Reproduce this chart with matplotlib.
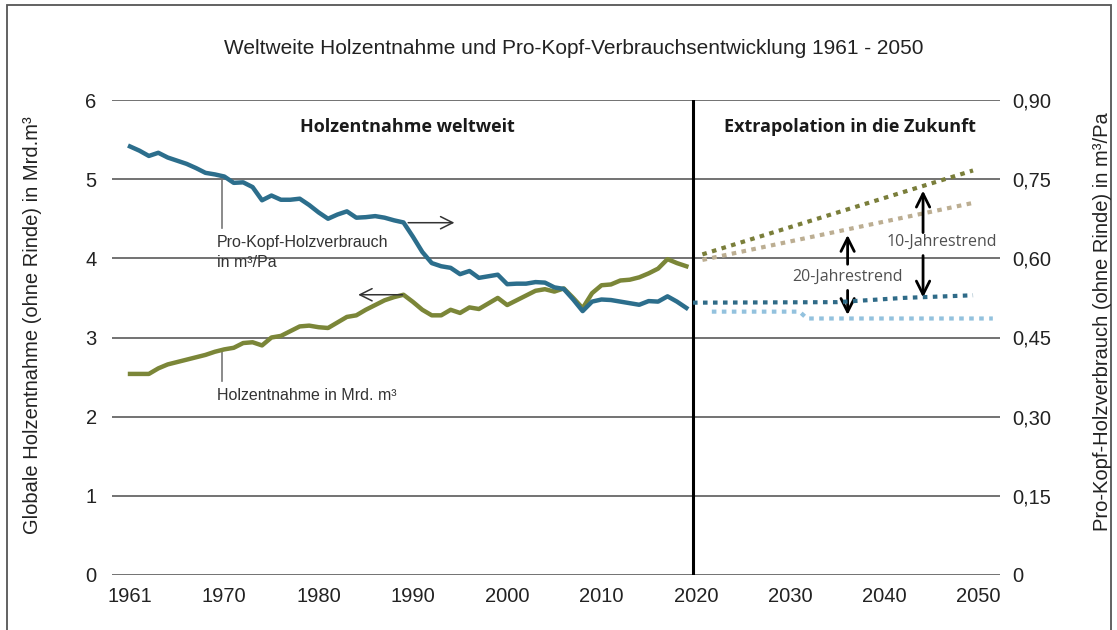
import matplotlib
matplotlib.use("Agg")
import matplotlib.pyplot as plt
from matplotlib.patches import Rectangle

# Holzentnahme weltweit (Mrd. m3) und Pro-Kopf-Verbrauch (m3/Pa), 1961-2020
years = list(range(1961, 2021))
removal = [2.54, 2.54, 2.54, 2.61, 2.66, 2.69, 2.72, 2.75, 2.78, 2.82,
           2.85, 2.87, 2.93, 2.94, 2.90, 3.00, 3.02, 3.08, 3.14, 3.15,
           3.13, 3.12, 3.19, 3.26, 3.28, 3.35, 3.41, 3.47, 3.51, 3.54,
           3.45, 3.35, 3.28, 3.28, 3.35, 3.31, 3.38, 3.36, 3.43, 3.50,
           3.41, 3.47, 3.53, 3.59, 3.61, 3.58, 3.62, 3.50, 3.37, 3.56,
           3.66, 3.67, 3.72, 3.73, 3.76, 3.81, 3.87, 3.99, 3.94, 3.90]
per_capita = [0.812, 0.804, 0.794, 0.800, 0.791, 0.785, 0.779, 0.771, 0.762, 0.759,
              0.755, 0.743, 0.744, 0.735, 0.710, 0.719, 0.711, 0.711, 0.713, 0.701,
              0.687, 0.675, 0.683, 0.689, 0.677, 0.678, 0.680, 0.677, 0.672, 0.668,
              0.641, 0.612, 0.591, 0.585, 0.582, 0.570, 0.576, 0.563, 0.566, 0.569,
              0.551, 0.552, 0.552, 0.555, 0.554, 0.545, 0.542, 0.522, 0.500, 0.518,
              0.522, 0.521, 0.518, 0.515, 0.512, 0.519, 0.518, 0.528, 0.518, 0.506]

# Extrapolation
trend_years = [2021.7, 2050.4]
removal_trend10 = [4.05, 5.11]
removal_trend20 = [3.98, 4.70]
capita10_years = [2020.7, 2036.0, 2043.0, 2050.4]
capita_trend10 = [0.516, 0.517, 0.525, 0.530]
capita20_years = [2022.7, 2032.0, 2032.8, 2052.5]
capita_trend20 = [0.499, 0.499, 0.486, 0.486]

tick_years = [1961 + 10 * k for k in range(10)]
tick_labels = ["1961", "1970", "1980", "1990", "2000", "2010",
               "2020", "2030", "2040", "2050"]
left_ticks = [0, 1, 2, 3, 4, 5, 6]
right_ticks = [0, 0.15, 0.30, 0.45, 0.60, 0.75, 0.90]
right_labels = ["0", "0,15", "0,30", "0,45", "0,60", "0,75", "0,90"]

BLUE = "#2c6e8c"
GREEN = "#7b8638"
plt.rcParams["font.family"] = ["Liberation Sans", "DejaVu Sans"]

fig = plt.figure(figsize=(11.17, 6.30), dpi=100)
ax = fig.add_axes([112 / 1117, 1 - 575 / 630, 888 / 1117, 475 / 630])
ax2 = ax.twinx()

ax.set_xlim(1959.09, 2053.26)
ax.set_ylim(0, 6)
ax2.set_ylim(0, 0.9)
for a in (ax, ax2):
    for s in a.spines.values():
        s.set_visible(False)

ax.set_yticks(left_ticks)
ax.set_yticklabels([str(t) for t in left_ticks])
ax2.set_yticks(right_ticks)
ax2.set_yticklabels(right_labels)
ax.set_xticks(tick_years)
ax.set_xticklabels(tick_labels)
ax.tick_params(axis="y", length=0, pad=11, labelsize=14.5, colors="#222")
ax.tick_params(axis="x", length=0, pad=9, labelsize=14.5, colors="#222")
ax2.tick_params(axis="y", length=0, pad=9, labelsize=14.5, colors="#222")
ax.yaxis.grid(True, color="#5a5a5a", lw=1.2)
ax.set_axisbelow(True)

# Verlauf
ax.plot(years, removal, color=GREEN, lw=3.2, solid_joinstyle="round", zorder=3)
ax2.plot(years, per_capita, color=BLUE, lw=3.2, solid_joinstyle="round", zorder=3)

dots = (0, (1.1, 1.3))
ax.plot(trend_years, removal_trend10, color="#7a7e3a", lw=3.0, ls=dots)
ax.plot(trend_years, removal_trend20, color="#bcae92", lw=3.0, ls=dots)
ax2.plot(capita10_years, capita_trend10, color="#2f6b88", lw=3.0, ls=dots)
ax2.plot(capita20_years, capita_trend20, color="#93c2de", lw=3.0, ls=dots)

ax.axvline(2020.7, color="black", lw=2.2, zorder=4)

bold = dict(family="Open Sans", weight="bold", fontsize=13, color="#1a1a1a",
            ha="center", va="center")
ax.text(1990.4, 5.66, "Holzentnahme weltweit", **bold)
ax.text(2037.35, 5.66, "Extrapolation in die Zukunft", **bold)

# Beschriftungen der Kurven
ax.plot([1970.76, 1970.76], [5.01, 4.38], color="#777", lw=1.2)
ax.text(1970.2, 4.07, "Pro-Kopf-Holzverbrauch\nin m³/Pa", fontsize=11.5,
        color="#333", ha="left", va="center", linespacing=1.4)
ax.plot([1970.76, 1970.76], [2.85, 2.45], color="#777", lw=1.2)
ax.text(1970.2, 2.27, "Holzentnahme in Mrd. m³", fontsize=11.5,
        color="#333", ha="left", va="center")

thin = dict(arrowstyle="->", color="#333", lw=1.1, mutation_scale=22)
ax.annotate("", xy=(1995.7, 4.45), xytext=(1990.2, 4.45), arrowprops=thin)
ax.annotate("", xy=(1984.9, 3.54), xytext=(1990.2, 3.54), arrowprops=thin)

# Trendpfeile
thick = dict(arrowstyle="->", color="black", lw=2.0, mutation_scale=24)
ax.annotate("", xy=(2037.1, 4.33), xytext=(2037.1, 3.89), arrowprops=thick)
ax.annotate("", xy=(2037.1, 3.25), xytext=(2037.1, 3.63), arrowprops=thick)
ax.annotate("", xy=(2045.1, 4.89), xytext=(2045.1, 4.29), arrowprops=thick)
ax.annotate("", xy=(2045.1, 3.47), xytext=(2045.1, 4.07), arrowprops=thick)
trend_font = dict(family="Open Sans", fontsize=11.5, color="#505050",
                  ha="center", va="center")
ax.text(2037.1, 3.76, "20-Jahrestrend", **trend_font)
ax.text(2047.1, 4.21, "10-Jahrestrend", **trend_font, zorder=5)

fig.text(574 / 1117, 1 - 48 / 630,
         "Weltweite Holzentnahme und Pro-Kopf-Verbrauchsentwicklung 1961 - 2050",
         fontsize=15, color="#222", ha="center", va="center")
fig.text(33 / 1117, 1 - 325 / 630,
         "Globale Holzentnahme (ohne Rinde) in Mrd.m³", rotation=90,
         fontsize=14.5, color="#222", ha="center", va="center")
fig.text(1103 / 1117, 1 - 322 / 630,
         "Pro-Kopf-Holzverbrauch (ohne Rinde) in m³/Pa", rotation=90,
         fontsize=14.5, color="#222", ha="center", va="center")

fig.patches.append(Rectangle((7 / 1117, -0.05), 1104 / 1117, 1.05 - 5 / 630,
                             transform=fig.transFigure, fill=False,
                             edgecolor="#555", lw=1.3))

fig.savefig("out.png", dpi=100)
